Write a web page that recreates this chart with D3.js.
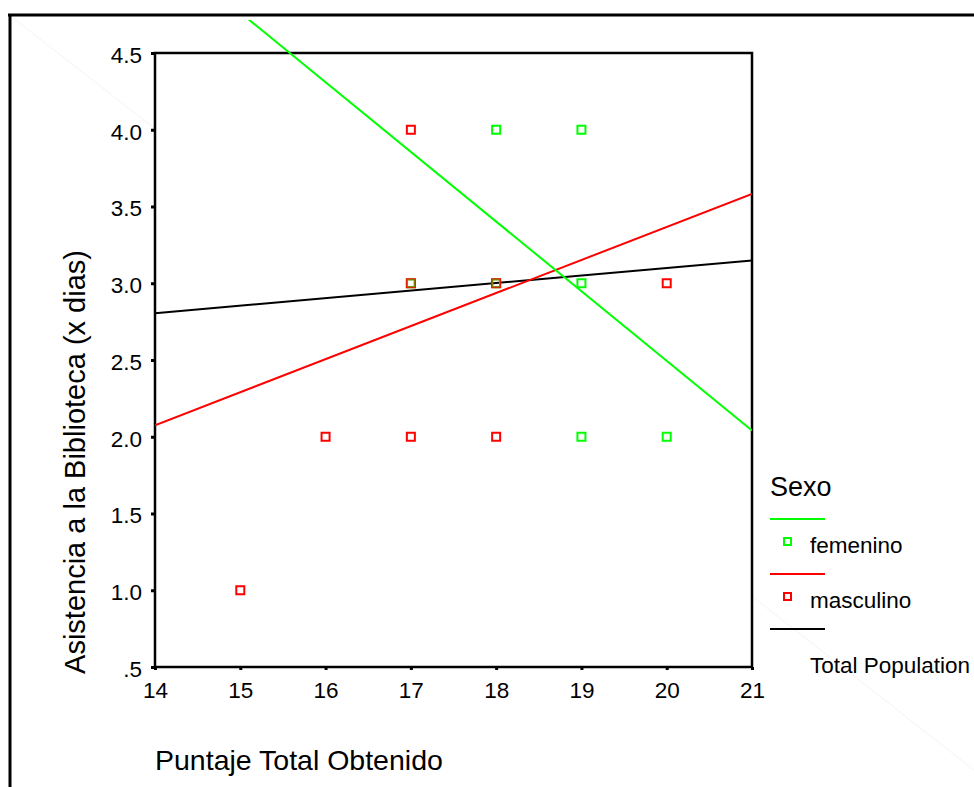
<!DOCTYPE html>
<html>
<head>
<meta charset="utf-8">
<script src="https://cdn.jsdelivr.net/npm/d3@7"></script>
<style>
  body { margin: 0; background: #fff; }
  svg { display: block; font-family: "Liberation Sans", Arial, sans-serif; }
</style>
</head>
<body>
<svg id="chart" width="974" height="787"></svg>
<script>
// scatter points per group (x = puntaje, y = dias)
var femenino = [[18, 4], [19, 4], [17, 3], [18, 3], [19, 3], [19, 2], [20, 2]];
var masculino = [[17, 4], [17, 3], [18, 3], [20, 3], [15, 1], [16, 2], [17, 2], [18, 2]];
// fit lines, value at x=14 and x=21
var fitFemenino = [[14, 5.217], [21, 2.041]];
var fitMasculino = [[14, 2.075], [21, 3.582]];
var fitTotal = [[14, 2.805], [21, 3.149]];
var xTicks = [14, 15, 16, 17, 18, 19, 20, 21];
var yTicks = [0.5, 1, 1.5, 2, 2.5, 3, 3.5, 4, 4.5];

var svg = d3.select("#chart");

// faint diagonal artefact + outer frame
svg.append("line").attr("x1", 12).attr("y1", 17).attr("x2", 974).attr("y2", 770)
  .attr("stroke", "#f3f3f3").attr("stroke-width", 1);
svg.append("line").attr("x1", 8).attr("y1", 15).attr("x2", 974).attr("y2", 15)
  .attr("stroke", "#000").attr("stroke-width", 3);
svg.append("line").attr("x1", 10).attr("y1", 14).attr("x2", 10).attr("y2", 787)
  .attr("stroke", "#000").attr("stroke-width", 3);

var x = d3.scaleLinear().domain([14, 21]).range([155, 752]);
var y = d3.scaleLinear().domain([0.5, 4.5]).range([667, 53]);

svg.append("rect").attr("x", 155).attr("y", 53).attr("width", 597).attr("height", 614)
  .attr("fill", "#fff");

svg.append("clipPath").attr("id", "clip").append("rect")
  .attr("x", 155).attr("y", 20).attr("width", 597).attr("height", 647);

var yAxis = d3.axisLeft(y).tickValues(yTicks).tickSize(4).tickPadding(9)
  .tickFormat(function(d) { return d < 1 ? ".5" : d3.format(".1f")(d); });
var xAxis = d3.axisBottom(x).tickValues(xTicks).tickSize(3).tickPadding(12)
  .tickFormat(d3.format("d"));

var gy = svg.append("g").attr("transform", "translate(155,0)").call(yAxis);
var gx = svg.append("g").attr("transform", "translate(0,667)").call(xAxis);
[gy, gx].forEach(function(g) {
  g.select(".domain").remove();
  g.selectAll(".tick line").attr("stroke", "#000").attr("stroke-width", 3);
  g.selectAll(".tick text").attr("fill", "#000").style("font-size", "22.5px")
    .style("font-family", "Liberation Sans, Arial, sans-serif");
});
gy.selectAll(".tick text").attr("dy", "0.42em");

// plot frame
svg.append("rect").attr("x", 155).attr("y", 53).attr("width", 597).attr("height", 614)
  .attr("fill", "none").attr("stroke", "#000").attr("stroke-width", 2.5);

var line = d3.line().x(function(d) { return x(d[0]); }).y(function(d) { return y(d[1]); });
var plot = svg.append("g").attr("clip-path", "url(#clip)");
plot.append("path").datum(fitTotal).attr("d", line).attr("fill", "none")
  .attr("stroke", "#000").attr("stroke-width", 2);
plot.append("path").datum(fitMasculino).attr("d", line).attr("fill", "none")
  .attr("stroke", "#ff0000").attr("stroke-width", 2);
plot.append("path").datum(fitFemenino).attr("d", line).attr("fill", "none")
  .attr("stroke", "#00ff00").attr("stroke-width", 2);

function drawPoints(data, color, opacity, size, width) {
  svg.append("g").selectAll("rect").data(data).enter().append("rect")
    .attr("x", function(d) { return x(d[0]) - size / 2; })
    .attr("y", function(d) { return y(d[1]) - size / 2; })
    .attr("width", size).attr("height", size)
    .attr("fill", "none").attr("stroke", color)
    .attr("stroke-opacity", opacity).attr("stroke-width", width);
}
drawPoints(femenino, "#00ff00", 1, 8, 2);
drawPoints(masculino, "#ff0000", 1, 8, 2);
// where both groups share a point the marker shows mixed
var shared = femenino.filter(function(f) {
  return masculino.some(function(m) { return m[0] === f[0] && m[1] === f[1]; });
});
drawPoints(shared, "#00ff00", 0.5, 7, 1.2);

// axis titles
svg.append("text").attr("x", 155).attr("y", 770).style("font-size", "28.5px")
  .text("Puntaje Total Obtenido");
svg.append("text").attr("transform", "translate(85,462) rotate(-90)")
  .attr("text-anchor", "middle").style("font-size", "29px")
  .text("Asistencia a la Biblioteca (x dias)");

// legend
var legend = svg.append("g");
legend.append("text").attr("x", 770).attr("y", 496).style("font-size", "27px").text("Sexo");
var items = [
  {color: "#00ff00", label: "femenino", marker: true},
  {color: "#ff0000", label: "masculino", marker: true},
  {color: "#000", label: "Total Population", marker: false}
];
items.forEach(function(it, i) {
  var ly = 519 + i * 55;
  legend.append("line").attr("x1", 770).attr("x2", 825).attr("y1", ly).attr("y2", ly)
    .attr("stroke", it.color).attr("stroke-width", 2);
  if (it.marker) {
    legend.append("rect").attr("x", 784).attr("y", ly + 19).attr("width", 7).attr("height", 7)
      .attr("fill", "none").attr("stroke", it.color).attr("stroke-width", 2);
  }
  legend.append("text").attr("x", 810).attr("y", ly + (it.marker ? 34 : 44))
    .style("font-size", "22.5px").text(it.label);
});
</script>
</body>
</html>
